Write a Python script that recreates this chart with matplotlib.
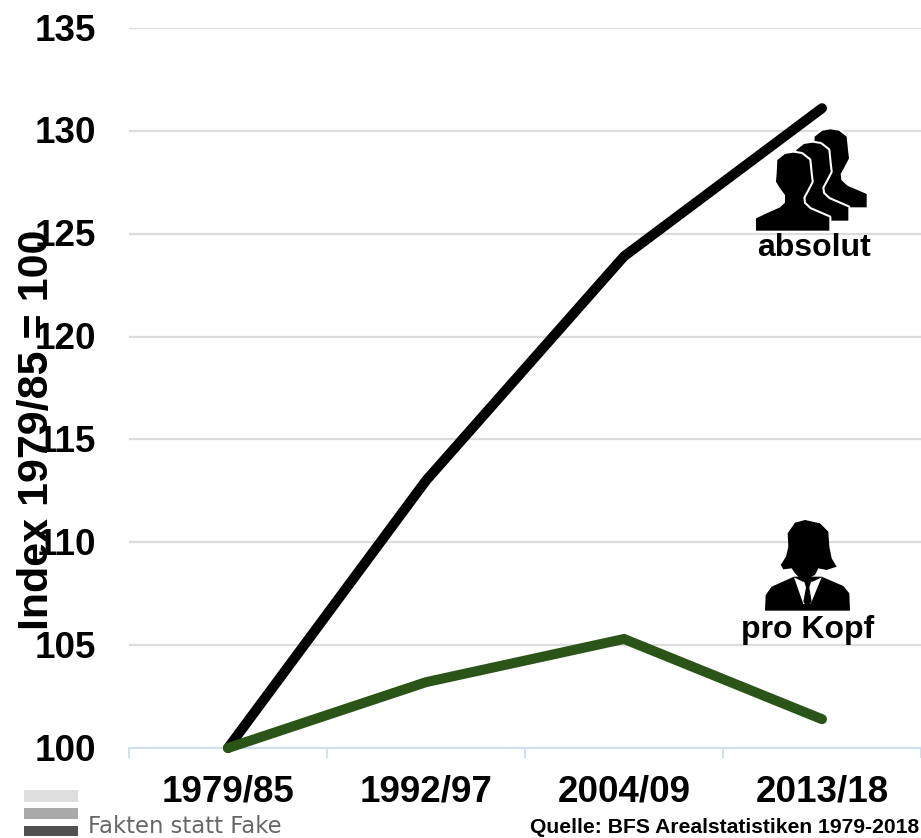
import matplotlib
matplotlib.use("Agg")
import matplotlib.pyplot as plt
from matplotlib.patches import Polygon, Rectangle
from matplotlib.transforms import ScaledTranslation

plt.rcParams['font.family'] = ['Liberation Sans', 'DejaVu Sans']

W, H = 921, 838
categories = ["1979/85", "1992/97", "2004/09", "2013/18"]
absolut = [100, 113.0, 123.9, 131.1]
pro_kopf = [100, 103.2, 105.3, 101.4]
y_ticks = [100, 105, 110, 115, 120, 125, 130, 135]

fig = plt.figure(figsize=(W / 100, H / 100), dpi=100, facecolor="white")
ax = fig.add_axes([129 / W, 1 - 748 / H, (921 - 129) / W, (748 - 28) / H])
ax.set_xlim(-0.5, 3.5)
ax.set_ylim(100, 135)
for s in ("top", "right", "left"):
    ax.spines[s].set_visible(False)
ax.spines["bottom"].set_color("#cfe0f3")
ax.spines["bottom"].set_linewidth(1.5)
ax.set_axisbelow(True)
ax.yaxis.grid(True, color="#dcdcdc", lw=1.6)
ax.set_yticks(y_ticks)
ax.set_xticks(range(4))
ax.set_xticklabels(categories)
ax.set_xticks([-0.5, 0.5, 1.5, 2.5, 3.5], minor=True)
ax.tick_params(axis="y", length=0, pad=23.5, labelsize=26.5)
ax.tick_params(axis="x", which="major", length=0, pad=19, labelsize=26.5)
ax.tick_params(axis="x", which="minor", length=7.5, width=1.5, color="#cfe0f3")
for lab in ax.get_xticklabels() + ax.get_yticklabels():
    lab.set_fontweight("bold")
shift = ScaledTranslation(0, 1.0 / 100, fig.dpi_scale_trans)
for lab in ax.get_yticklabels():
    lab.set_transform(lab.get_transform() + shift)

ax.plot(range(4), absolut, color="black", lw=7.2, solid_capstyle="round", solid_joinstyle="miter", clip_on=False, zorder=3)
ax.plot(range(4), pro_kopf, color="#2b5518", lw=7.2, solid_capstyle="round", solid_joinstyle="miter", clip_on=False, zorder=4)

fig.text(48 / W, 1 - 430 / H, "Index 1979/85 = 100", rotation=90, ha="center", va="baseline",
         rotation_mode="anchor", fontsize=31, fontweight="bold", color="black", zorder=6)


def px(points, ox=0, oy=0, sc=1 / 3, dx=0, dy=0):
    return [((ox + (x + dx) * sc) / W, 1 - (oy + (y + dy) * sc) / H) for x, y in points]


def poly(points, color="black", edge=None, lw=0, **kw):
    fig.add_artist(Polygon(px(points, **kw), closed=True, transform=fig.transFigure, facecolor=color,
                           edgecolor=edge if edge else "none", linewidth=lw, zorder=5, joinstyle="round"))


person = [(78, 362), (78, 325), (110, 310), (150, 292), (165, 278), (165, 255), (150, 235), (138, 215),
          (140, 190), (142, 150), (165, 132), (190, 128), (215, 132), (238, 150), (242, 190), (245, 215),
          (232, 240), (220, 262), (222, 280), (240, 297), (298, 322), (298, 362)]
for dx, dy in [(112, -70), (57, -30), (0, 0)]:
    poly(person, color="white", edge="white", lw=3.0, ox=730, oy=110, dx=dx, dy=dy)
    poly(person, color="black", ox=730, oy=110, dx=dx, dy=dy)

hair = [(225, 68), (255, 60), (300, 70), (325, 95), (328, 140), (335, 175), (350, 200), (320, 210), (295, 205),
        (285, 225), (265, 235), (240, 235), (225, 220), (215, 205), (190, 208), (182, 195), (198, 170), (205, 140),
        (203, 100)]
suit = [(135, 332), (137, 285), (155, 260), (222, 230), (305, 230), (370, 258), (388, 280), (390, 332)]
shirt = [(222, 232), (248, 245), (278, 245), (305, 232), (272, 312), (250, 312)]
tie = [(252, 243), (274, 243), (268, 262), (275, 305), (263, 325), (250, 305), (258, 262)]
poly(suit, ox=720, oy=500)
poly(shirt, color="white", ox=720, oy=500)
poly(tie, ox=720, oy=500)
poly(hair, ox=720, oy=500)

fig.text(814 / W, 1 - 256 / H, "absolut", ha="center", va="baseline", fontsize=23, fontweight="bold", zorder=6)
fig.text(808 / W, 1 - 638 / H, "pro Kopf", ha="center", va="baseline", fontsize=23, fontweight="bold", zorder=6)

for (y0, y1, c) in [(790, 802, "#dedede"), (808, 819, "#a9a9a9"), (825.5, 836, "#505050")]:
    fig.add_artist(Rectangle((24 / W, 1 - y1 / H), (78 - 24) / W, (y1 - y0) / H, transform=fig.transFigure,
                             facecolor=c, edgecolor="none", zorder=5))
fig.text(88 / W, 1 - 833 / H, "Fakten statt Fake", ha="left", va="baseline", fontsize=16.4, color="#666666",
         family="DejaVu Sans", zorder=6)
fig.text(919 / W, 1 - 833 / H, "Quelle: BFS Arealstatistiken 1979-2018", ha="right", va="baseline",
         fontsize=15.2, fontweight="bold", zorder=6)

fig.savefig("out.png", dpi=100)
